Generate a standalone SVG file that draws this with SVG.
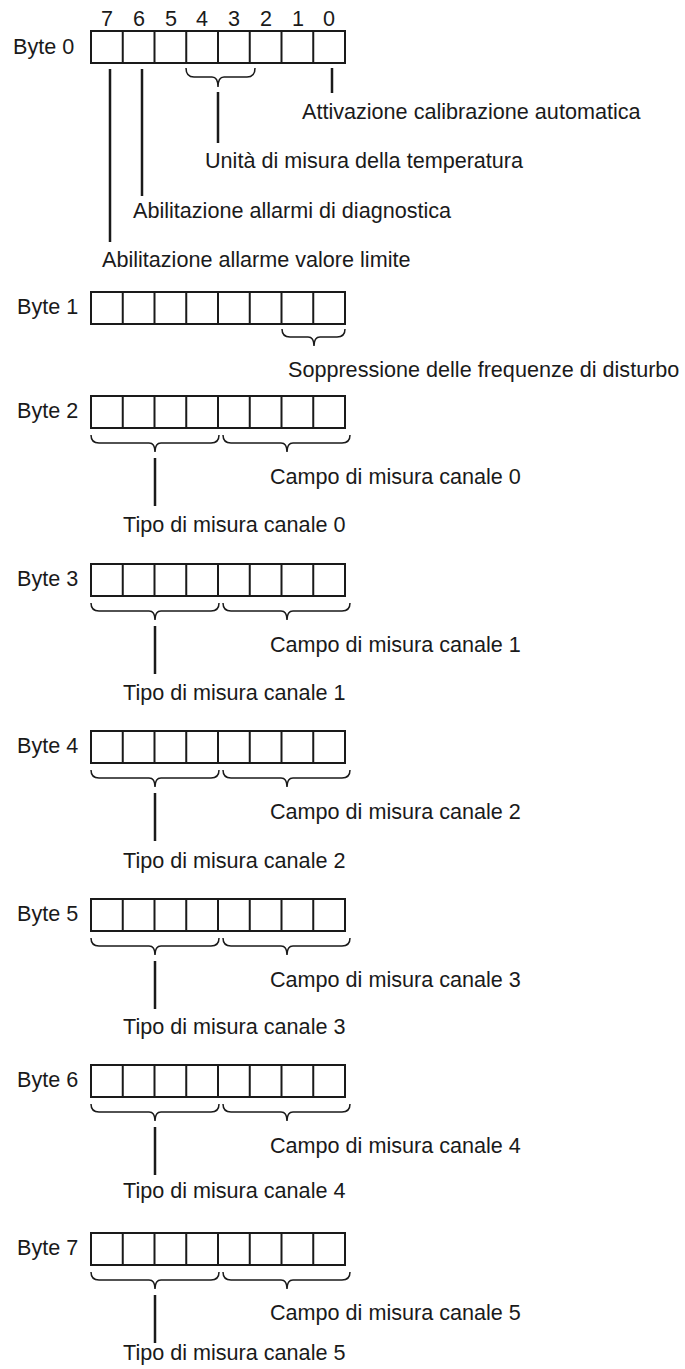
<svg xmlns="http://www.w3.org/2000/svg" xmlns:xlink="http://www.w3.org/1999/xlink" width="685" height="1369" viewBox="0 0 685 1369">
<style>
text{font-family:"Liberation Sans",Arial,sans-serif;font-size:21.6px;fill:#1a1a1a}
.box{fill:#fff;stroke:#1a1a1a;stroke-width:2}
.ln{stroke:#1a1a1a;stroke-width:2.5;fill:none}
.br{stroke:#1a1a1a;stroke-width:1.5;fill:none}
.num{text-anchor:middle}
</style>
<defs>
<g id="byte">
<rect class="box" x="91" y="0" width="254" height="32"/>
<path class="ln" style="stroke-width:2" d="M122.75,0V32M154.5,0V32M186.25,0V32M218,0V32M249.75,0V32M281.5,0V32M313.25,0V32"/>
</g>
<g id="braces2">
<path class="br" d="M91,0 Q91,8 99,8 L149,8 Q155,8 155,17 Q155,8 161,8 L211,8 Q219,8 219,0"/>
<path class="br" d="M223,0 Q223,8 231,8 L281,8 Q287,8 287,17 Q287,8 293,8 L342,8 Q350,8 350,0"/>
</g>
</defs>
<rect width="685" height="1369" fill="#fff"/>

<g id="byte0">
<text class="num" x="107" y="26">7</text><text class="num" x="139" y="26">6</text><text class="num" x="171" y="26">5</text><text class="num" x="202" y="26">4</text><text class="num" x="234" y="26">3</text><text class="num" x="266" y="26">2</text><text class="num" x="298" y="26">1</text><text class="num" x="329" y="26">0</text>
<text x="13" y="54">Byte 0</text>
<use xlink:href="#byte" href="#byte" y="31"/>
</g>
<g id="byte0-labels">
<text x="302" y="119">Attivazione calibrazione automatica</text>
<text x="205" y="168">Unità di misura della temperatura</text>
<text x="133" y="218">Abilitazione allarmi di diagnostica</text>
<text x="102" y="267">Abilitazione allarme valore limite</text>
</g>

<g id="byte1">
<text x="17" y="314">Byte 1</text>
<use xlink:href="#byte" href="#byte" y="292"/>
<text x="288" y="377">Soppressione delle frequenze di disturbo</text>
</g>

<g id="byte2">
<text x="17" y="418">Byte 2</text>
<use xlink:href="#byte" href="#byte" y="396"/>
<text x="270" y="484">Campo di misura canale 0</text>
<text x="123" y="532">Tipo di misura canale 0</text>
</g>
<g id="byte3">
<text x="17" y="586">Byte 3</text>
<use xlink:href="#byte" href="#byte" y="564"/>
<text x="270" y="652">Campo di misura canale 1</text>
<text x="123" y="700">Tipo di misura canale 1</text>
</g>
<g id="byte4">
<text x="17" y="753">Byte 4</text>
<use xlink:href="#byte" href="#byte" y="731"/>
<text x="270" y="819">Campo di misura canale 2</text>
<text x="123" y="868">Tipo di misura canale 2</text>
</g>
<g id="byte5">
<text x="17" y="921">Byte 5</text>
<use xlink:href="#byte" href="#byte" y="899"/>
<text x="270" y="987">Campo di misura canale 3</text>
<text x="123" y="1034">Tipo di misura canale 3</text>
</g>
<g id="byte6">
<text x="17" y="1087">Byte 6</text>
<use xlink:href="#byte" href="#byte" y="1065"/>
<text x="270" y="1153">Campo di misura canale 4</text>
<text x="123" y="1198">Tipo di misura canale 4</text>
</g>
<g id="byte7">
<text x="17" y="1255">Byte 7</text>
<use xlink:href="#byte" href="#byte" y="1233"/>
<text x="270" y="1320">Campo di misura canale 5</text>
<text x="123" y="1360">Tipo di misura canale 5</text>
</g>

<g id="connectors">
<path class="ln" d="M110,69V242M142,69V196M218,92V143M332,68V93"/>
<path class="br" d="M186,68 Q186,77 194,77 L212,77 Q218,77 218,87 Q218,77 224,77 L247,77 Q255,77 255,68"/>
<path class="br" d="M282,329 Q282,337 290,337 L308,337 Q314,337 314,346 Q314,337 320,337 L337,337 Q345,337 345,329"/>
<use xlink:href="#braces2" href="#braces2" y="435"/>
<use xlink:href="#braces2" href="#braces2" y="603"/>
<use xlink:href="#braces2" href="#braces2" y="770"/>
<use xlink:href="#braces2" href="#braces2" y="938"/>
<use xlink:href="#braces2" href="#braces2" y="1104"/>
<use xlink:href="#braces2" href="#braces2" y="1272"/>
<path class="ln" d="M155,458V506M155,626V674M155,793V841M155,961V1009M155,1127V1175M155,1295V1343"/>
</g>
</svg>
